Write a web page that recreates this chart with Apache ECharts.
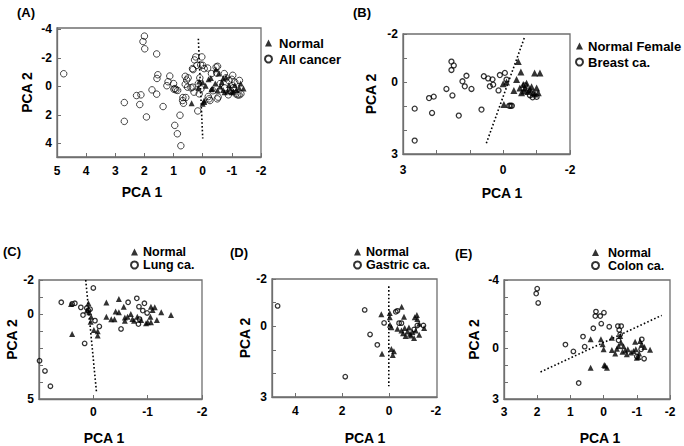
<!DOCTYPE html>
<html>
<head>
<meta charset="utf-8">
<script src="https://cdn.jsdelivr.net/npm/echarts@6/dist/echarts.min.js"></script>
<style>
  html, body { margin: 0; padding: 0; background: #fff; }
  #chart { width: 684px; height: 446px; }
</style>
</head>
<body>
<div id="chart"></div>
<script>
// ---- data: [PCA 1, PCA 2] ----
var aNormal = [[0.38,1.18],[-0.05,0.99],[0.0,1.22],[-0.05,1.1],[0.12,-0.35],[0.0,-0.3],[-0.2,-0.5],[-0.28,-0.6],[-0.43,-0.2],[-0.34,0.17],[-0.6,0.0],[-0.7,0.25],[-0.65,-0.3],[-0.85,0.35],[-0.95,0.15],[-1.05,0.35],[-1.15,0.25],[-1.25,0.1],[-1.3,-0.2],[-0.51,0.28],[-0.7,-0.55],[-0.8,-0.65],[-1.4,0.15],[-0.45,-1.2],[-0.9,-0.1],[-1.0,0.4],[-0.1,-0.05],[0.15,0.1],[-0.55,-0.9],[-0.75,0.4],[-1.1,-0.1],[-0.3,0.2]];
var aCancer = [[4.77,-0.89],[2.0,-3.53],[2.05,-3.15],[1.99,-2.64],[1.58,-2.28],[1.54,-0.82],[1.57,-0.56],[1.58,0.54],[1.74,0.24],[2.27,0.64],[2.12,0.59],[2.16,1.27],[2.69,1.13],[2.69,2.45],[1.93,2.14],[1.36,1.41],[1.13,-0.73],[1.19,-0.33],[1.23,-0.05],[0.99,0.19],[0.92,0.24],[0.86,0.28],[0.68,0.78],[0.58,0.78],[0.66,1.18],[0.78,2.02],[0.96,2.73],[0.87,3.32],[0.75,4.16],[0.17,1.72],[0.6,-0.71],[0.55,-0.45],[0.6,-0.15],[0.52,0.05],[0.4,0.1],[0.5,-0.6],[1.0,-0.2],[0.95,0.15],[0.24,-2.07],[0.2,-1.48],[0.0,-1.48],[-0.05,-1.25],[0.35,-1.25],[0.03,-2.07],[0.28,-1.86],[0.07,-1.5],[0.33,-1.18],[-0.17,-1.29],[-0.46,-1.36],[-0.51,-1.41],[-0.48,-0.94],[-0.74,-0.9],[-1.03,-0.78],[-1.26,-0.42],[-1.31,0.52],[-1.14,0.52],[-0.9,-0.4],[-0.8,-0.6],[-1.0,-0.5],[-1.1,-0.3],[-0.6,-0.2],[-0.75,0.1],[0.35,0.05],[0.3,0.4],[0.06,0.17],[0.12,0.52],[0.69,0.99],[-0.22,0.87],[-0.25,0.99],[-0.53,0.75],[-0.5,0.87],[-0.88,0.59],[-1.2,0.59],[-1.25,0.6],[-0.19,0.71],[0.1,-0.6],[0.15,-0.2],[-0.3,-0.9],[-0.35,0.3],[-0.95,0.3],[-1.05,0.1]];
var aLine = [[0.15,-3.35],[0.0,3.65]];

var bNormal = [[-0.45,-0.85],[-0.53,-0.42],[-0.4,-0.1],[-0.32,0.35],[0.0,0.07],[-0.02,0.94],[-0.94,-0.38],[-1.1,-0.38],[-0.6,0.1],[-0.65,0.25],[-0.7,0.05],[-0.75,0.4],[-0.85,0.2],[-0.9,0.45],[-0.95,0.5],[-1.0,0.25],[-0.55,0.45],[-0.5,0.25],[-0.8,0.3],[-0.62,0.38],[-1.05,0.45],[-0.1,0.0]];
var bCancer = [[2.65,1.11],[2.65,2.44],[2.22,0.67],[2.08,0.61],[2.13,1.29],[1.7,0.29],[1.52,0.56],[1.55,-0.85],[1.48,-0.69],[1.55,-0.5],[1.33,1.4],[1.22,-0.03],[1.15,0.18],[1.1,-0.26],[0.95,0.29],[0.65,1.15],[0.58,-0.24],[0.45,-0.15],[0.32,-0.11],[0.4,0.18],[0.3,0.11],[0.1,-0.29],[-0.05,-0.38],[0.14,0.35],[-0.1,-0.1],[-0.18,0.99],[-0.26,0.99],[-0.22,0.99],[-0.65,0.14],[-0.88,0.64],[-1.0,0.62],[-0.75,0.35],[-0.8,0.55]];
var bLine = [[-0.63,-1.83],[0.52,2.61]];

var cNormal = [[0.41,-0.59],[0.39,1.18],[0.09,-0.63],[0.075,-0.1],[0.04,0.16],[-0.01,0.94],[-0.08,1.02],[-0.08,1.27],[-0.24,-0.67],[-0.47,-0.88],[-0.24,0.16],[-0.33,0.31],[-0.39,0.31],[-0.41,-0.14],[-0.47,-0.1],[-0.56,-0.43],[-0.58,0.2],[-0.58,0.39],[-0.63,0.16],[-0.69,0.0],[-0.72,0.29],[-0.75,0.39],[-0.81,0.16],[-0.88,0.35],[-0.97,0.55],[-1.06,-0.43],[-1.13,-0.39],[-1.09,-0.24],[-1.05,0.16],[-1.0,0.49],[-1.17,0.35],[-1.25,-0.1],[-1.43,0.06],[-1.06,0.49],[0.12,-0.2],[0.05,0.45]];
var cCancer = [[0.99,2.75],[0.89,3.35],[0.79,4.25],[0.59,-0.69],[0.39,-0.59],[0.34,-0.63],[0.23,-0.39],[0.19,0.06],[0.12,-0.35],[0.09,-0.2],[0.06,-0.28],[0.16,1.73],[0.0,-1.53],[-0.03,0.39],[-0.11,0.73],[-0.51,0.88],[-0.64,-0.69],[-0.8,-0.92],[-0.84,-0.43],[-0.94,-0.63],[-0.91,-0.2],[-0.99,-0.06],[-0.83,0.59],[-0.85,0.3]];
var cLine = [[0.14,-2],[-0.06,4.67]];

var dNormal = [[0.33,-0.51],[-0.03,-0.56],[-0.03,-0.38],[-0.04,-0.06],[-0.1,0.04],[0.3,1.17],[-0.1,0.97],[-0.21,1.06],[-0.16,1.22],[-0.54,-0.82],[-0.64,-0.4],[-0.36,0.11],[-0.53,0.18],[-0.67,0.08],[-0.79,0.22],[-0.9,0.32],[-0.71,0.42],[-0.93,0.39],[-1.07,0.5],[-1.1,-0.38],[-1.19,-0.47],[-1.21,-0.31],[-1.29,-0.1],[-1.5,0.08],[-1.14,0.18],[-1.29,0.36],[-1.0,0.25],[-0.85,0.05],[-0.6,0.3]];
var dCancer = [[4.76,-0.86],[1.87,2.14],[1.04,-0.69],[0.81,0.35],[0.5,0.79],[0.21,-0.14],[-0.29,-0.61],[-0.36,-0.65],[-0.43,-0.13],[-0.53,-0.13],[-1.47,-0.03],[-1.07,0.14],[-1.21,-0.03]];
var dLine = [[0.01,-1.69],[0.01,2.54]];

var eNormal = [[0.39,-0.51],[0.39,1.16],[0.08,-0.51],[0.03,-0.22],[0.0,0.08],[-0.02,1.0],[-0.1,1.16],[-0.05,1.05],[-0.25,-0.61],[-0.25,0.12],[-0.35,0.33],[-0.45,-0.12],[-0.5,-0.71],[-0.53,-0.31],[-0.57,0.22],[-0.65,0.14],[-0.7,0.37],[-0.73,0.08],[-0.83,0.27],[-0.9,0.18],[-0.95,-0.37],[-1.0,0.57],[-1.05,0.53],[-1.1,-0.41],[-1.15,-0.22],[-1.23,-0.06],[-1.4,0.1],[-0.97,0.08],[-1.07,0.33],[-0.6,-0.1],[-0.4,0.05]];
var eCancer = [[2.0,-3.49],[2.03,-3.2],[1.97,-2.65],[0.23,-2.14],[0.25,-1.88],[0.1,-1.88],[-0.01,-2.08],[0.07,-1.43],[0.31,-1.16],[-0.17,-1.25],[0.62,-0.67],[0.57,-0.08],[1.15,-0.2],[0.91,0.2],[0.75,2.06],[-0.43,-1.29],[-0.53,-1.29],[-0.47,-1.06],[-0.5,-0.8],[-0.45,-0.45],[-1.15,-0.51],[-1.13,0.08],[-1.22,0.63],[-1.0,0.5]];
var eLine = [[1.9,1.41],[-1.75,-1.92]];

// ---- ticks and labels ----
var aXTicks = [5,4,3,2,1,0,-1,-2], aXLabels = [5,4,3,2,1,0,-1,-2];
var aYTicks = [-4,-2,0,2,4],       aYLabels = [-4,-2,0,2,4];
var bXTicks = [3,2,1,0,-1,-2],     bXLabels = [3,0,-2];
var bYTicks = [-2,-1,0,1,2,3],     bYLabels = [-2,0,3];
var cXTicks = [1,0,-1,-2],         cXLabels = [0,-1,-2];
var cYTicks = [-2,-1,0,1,2,3,4,5], cYLabels = [-2,0,5];
var dXTicks = [4,2,0],             dXLabels = [4,2,0,-2];
var dYTicks = [-2,-1,0,1,2,3],     dYLabels = [-2,0,3];
var eXTicks = [3,2,1,0,-1,-2],     eXLabels = [3,2,1,0,-1,-2];
var eYTicks = [-4,-3,-2,-1,0,1,2,3], eYLabels = [-4,0,3];

var FONT = '"Liberation Sans", Arial, sans-serif';
var BOX = '#6f6f6f';

var panels = [
  { tag: '(A)', normal: 'Normal', cancer: 'All cancer', nData: aNormal, cData: aCancer, line: aLine,
    grid: { left: 57, top: 28, width: 204, height: 129 },
    x: { min: -2, max: 5, ticks: aXTicks, labels: aXLabels, margin: 8 },
    y: { min: -4.1, max: 4.95, ticks: aYTicks, labels: aYLabels, gap: 23 },
    tagAt: [17, 12], nameAt: [142, 192],
    legend: { left: 264, top: 35, fs: 13, lh: 16, pad: 2 }, cSize: 6.5, tSize: 6 },
  { tag: '(B)', normal: 'Normal Female', cancer: 'Breast ca.', nData: bNormal, cData: bCancer, line: bLine,
    grid: { left: 403, top: 34, width: 167, height: 120 },
    x: { min: -2, max: 3, ticks: bXTicks, labels: bXLabels, margin: 10 },
    y: { min: -2, max: 3, ticks: bYTicks, labels: bYLabels, gap: 25 },
    tagAt: [353, 12], nameAt: [502, 193],
    legend: { left: 575, top: 38, fs: 13, lh: 16, pad: 0 }, cSize: 5, tSize: 7 },
  { tag: '(C)', normal: 'Normal', cancer: 'Lung ca.', nData: cNormal, cData: cCancer, line: cLine,
    grid: { left: 39, top: 280, width: 163, height: 119 },
    x: { min: -2, max: 1, ticks: cXTicks, labels: cXLabels, margin: 7 },
    y: { min: -2, max: 5, ticks: cYTicks, labels: cYLabels, gap: 20 },
    tagAt: [3, 251], nameAt: [104, 438],
    legend: { left: 130, top: 245.5, fs: 12.5, lh: 13, pad: 0 }, cSize: 4.5, tSize: 6 },
  { tag: '(D)', normal: 'Normal', cancer: 'Gastric ca.', nData: dNormal, cData: dCancer, line: dLine,
    grid: { left: 272, top: 279, width: 165, height: 118 },
    x: { min: -2.05, max: 5, ticks: dXTicks, labels: dXLabels, margin: 8 },
    y: { min: -2, max: 3, ticks: dYTicks, labels: dYLabels, gap: 20 },
    tagAt: [230, 252], nameAt: [365, 438],
    legend: { left: 353, top: 245.5, fs: 12.5, lh: 13, pad: 0 }, cSize: 4.5, tSize: 6 },
  { tag: '(E)', normal: 'Normal', cancer: 'Colon ca.', nData: eNormal, cData: eCancer, line: eLine,
    grid: { left: 504, top: 280, width: 166, height: 119 },
    x: { min: -2, max: 3, ticks: eXTicks, labels: eXLabels, margin: 7 },
    y: { min: -4, max: 3, ticks: eYTicks, labels: eYLabels, gap: 23 },
    tagAt: [455, 253], nameAt: [600, 438],
    legend: { left: 591, top: 246, fs: 12.5, lh: 13, pad: 4 }, cSize: 4.5, tSize: 6 }
];

var labelStyle = { fontFamily: FONT, fontSize: 12, fontWeight: 'bold', color: '#000' };

var option = {
  animation: false,
  backgroundColor: '#fff',
  grid: [], xAxis: [], yAxis: [], legend: [], series: [], graphic: []
};

panels.forEach(function (p, i) {
  option.grid.push(Object.assign({ show: true, borderColor: BOX, borderWidth: 1.3, containLabel: false }, p.grid));
  option.xAxis.push({
    type: 'value', gridIndex: i, min: p.x.min, max: p.x.max, inverse: true,
    axisLine: { show: true, onZero: false, lineStyle: { color: BOX, width: 1.3 } },
    axisTick: { show: true, inside: true, length: 4, customValues: p.x.ticks, lineStyle: { color: BOX } },
    axisLabel: Object.assign({ customValues: p.x.labels, margin: p.x.margin }, labelStyle),
    splitLine: { show: false }
  });
  option.yAxis.push({
    type: 'value', gridIndex: i, min: p.y.min, max: p.y.max, inverse: true,
    name: 'PCA 2', nameLocation: 'middle', nameRotate: 90, nameGap: p.y.gap,
    nameTextStyle: { fontFamily: FONT, fontSize: 14, fontWeight: 'bold', color: '#000' },
    axisLine: { show: true, onZero: false, lineStyle: { color: BOX, width: 1.3 } },
    axisTick: { show: true, inside: true, length: 4, customValues: p.y.ticks, lineStyle: { color: BOX } },
    axisLabel: Object.assign({ customValues: p.y.labels, margin: 5 }, labelStyle),
    splitLine: { show: false }
  });
  option.legend.push({
    orient: 'vertical', left: p.legend.left, top: p.legend.top, padding: 0,
    itemGap: 0, itemWidth: 7, itemHeight: 7, selectedMode: false,
    textStyle: { fontFamily: FONT, fontSize: p.legend.fs, fontWeight: 'bold', color: '#000',
                 lineHeight: p.legend.lh, padding: [0, 0, 0, p.legend.pad] },
    data: [{ name: p.normal, icon: 'triangle' }, { name: p.cancer, icon: 'circle' }]
  });
  option.series.push({
    type: 'line', name: p.tag + ' split', xAxisIndex: i, yAxisIndex: i, data: p.line,
    symbol: 'none', silent: true, z: 1,
    lineStyle: { color: '#000', width: 1.6, type: [1.6, 2.2] }
  });
  option.series.push({
    type: 'scatter', name: p.cancer, xAxisIndex: i, yAxisIndex: i, data: p.cData,
    symbol: 'circle', symbolSize: p.cSize, z: 2,
    itemStyle: { color: 'rgba(255,255,255,0)', borderColor: '#000', borderWidth: i === 0 ? 0.9 : 1.3 }
  });
  option.series.push({
    type: 'scatter', name: p.normal, xAxisIndex: i, yAxisIndex: i, data: p.nData,
    symbol: 'triangle', symbolSize: p.tSize, z: 3,
    itemStyle: { color: '#000' }
  });
  option.graphic.push({
    type: 'text', x: p.tagAt[0], y: p.tagAt[1],
    style: { text: p.tag, font: 'bold 13px ' + FONT, fill: '#000', textAlign: 'left', textVerticalAlign: 'middle' }
  });
  option.graphic.push({
    type: 'text', x: p.nameAt[0], y: p.nameAt[1],
    style: { text: 'PCA 1', font: 'bold 14px ' + FONT, fill: '#000', textAlign: 'center', textVerticalAlign: 'middle' }
  });
});

var chart = echarts.init(document.getElementById('chart'), null, { renderer: 'svg' });
chart.setOption(option);
</script>
</body>
</html>
